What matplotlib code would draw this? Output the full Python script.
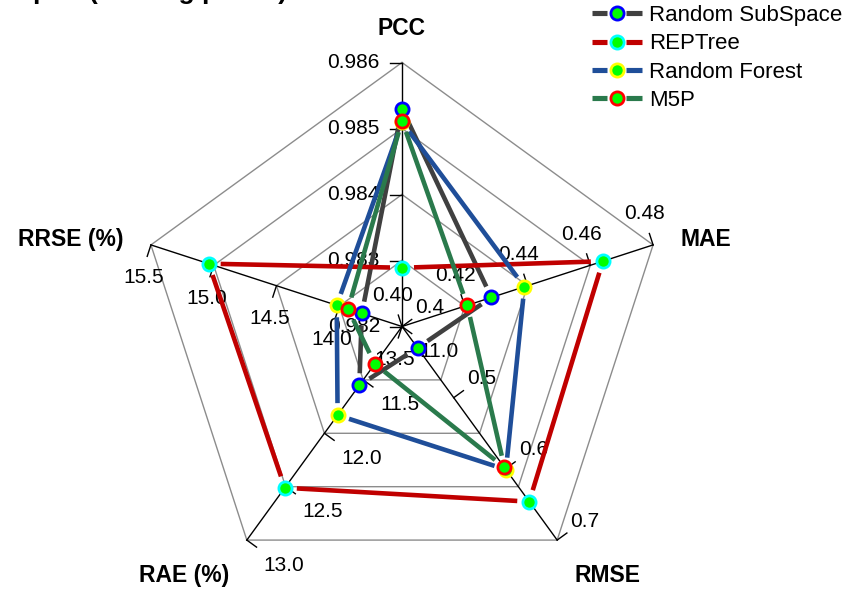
import numpy as np
import matplotlib
matplotlib.use('Agg')
import matplotlib.pyplot as plt
from matplotlib.lines import Line2D
from matplotlib.legend_handler import HandlerBase

plt.rcParams['font.family'] = ['Liberation Sans', 'DejaVu Sans']

# ---------------- data ----------------
axis_names = ['PCC', 'MAE', 'RMSE', 'RAE (%)', 'RRSE (%)']

pcc_ticks = [0.982, 0.983, 0.984, 0.985, 0.986]
mae_ticks = [0.40, 0.42, 0.44, 0.46, 0.48]
rmse_ticks = [0.4, 0.5, 0.6, 0.7]
rae_ticks = [11.0, 11.5, 12.0, 12.5, 13.0]
rrse_ticks = [13.5, 14.0, 14.5, 15.0, 15.5]

pcc_labels = ['0.982', '0.983', '0.984', '0.985', '0.986']
mae_labels = ['0.40', '0.42', '0.44', '0.46', '0.48']
rmse_labels = ['0.4', '0.5', '0.6', '0.7']
rae_labels = ['11.0', '11.5', '12.0', '12.5', '13.0']
rrse_labels = ['13.5', '14.0', '14.5', '15.0', '15.5']

series_names = ['Random SubSpace', 'REPTree', 'Random Forest', 'M5P']
# values in order PCC, MAE, RMSE, RAE (%), RRSE (%)
random_subspace = [0.98530, 0.4285, 0.430, 11.55, 13.82]
reptree = [0.98289, 0.464, 0.646, 12.51, 15.04]
random_forest = [0.98510, 0.439, 0.601, 11.83, 14.02]
m5p = [0.98512, 0.4208, 0.598, 11.35, 13.93]

line_colors = ['#404040', '#C00000', '#1F4E99', '#2A7A4C']
edge_colors = ['#0000FF', '#00FFFF', '#FFFF00', '#FF0000']
face_color = '#00FF00'

LW = 3.3
MS = 9.5
MEW = 2.0

# ---------------- layout ----------------
W, H = 853, 590
cx, cy = 402.0, 326.5     # pixel centre
R = 264.0                 # pixel radius of outer ring

fig = plt.figure(figsize=(W / 100, H / 100), dpi=100)
ax = fig.add_axes([0, 0, 1, 1])
ax.set_xlim(-cx / R, (W - cx) / R)
ax.set_ylim(-(H - cy) / R, cy / R)
ax.axis('off')

all_ticks = [pcc_ticks, mae_ticks, rmse_ticks, rae_ticks, rrse_ticks]
all_labels = [pcc_labels, mae_labels, rmse_labels, rae_labels, rrse_labels]
n = len(axis_names)
theta = np.deg2rad(90 - 72 * np.arange(n))
ux, uy = np.cos(theta), np.sin(theta)
nx, ny = -np.sin(theta), np.cos(theta)   # tick direction


def frac(i, v):
    t = all_ticks[i]
    return (v - t[0]) / (t[-1] - t[0])


def px(dx, dy):
    return dx / R, -dy / R

# grid pentagons
for f in [0.25, 0.5, 0.75, 1.0]:
    xs = list(f * ux) + [f * ux[0]]
    ys = list(f * uy) + [f * uy[0]]
    ax.plot(xs, ys, color='#8C8C8C', lw=1.0, zorder=1)

# axis lines, ticks, tick labels
label_off = {1: (-9, -31), 2: (28, -19), 3: (37, 25), 4: (-7, 33)}
L = 12 / R
for i in range(n):
    ax.plot([0, ux[i]], [0, uy[i]], color='black', lw=1.0, zorder=2)
    for v, lab in zip(all_ticks[i], all_labels[i]):
        f = frac(i, v)
        x0, y0 = f * ux[i], f * uy[i]
        ax.plot([x0, x0 + L * nx[i]], [y0, y0 + L * ny[i]], color='black', lw=1.0, zorder=2)
        if i == 0:
            ox, oy = px(-22, 0)
            ax.text(x0 + ox, y0 + oy, lab, ha='right', va='center', fontsize=15, zorder=2)
        else:
            ox, oy = px(*label_off[i])
            ax.text(x0 + ox, y0 + oy, lab, ha='center', va='center', fontsize=15, zorder=2)

# category labels (pixel offsets from outer vertex)
cat_off = [((0, -34), 'center'), ((27, -5), 'left'), ((50, 35), 'center'),
           ((-63, 35), 'center'), ((-27, -5), 'right')]
for i in range(n):
    (dx, dy), ha = cat_off[i]
    ox, oy = px(dx, dy)
    ax.text(ux[i] + ox, uy[i] + oy, axis_names[i], ha=ha, va='center',
            fontsize=16.5, fontweight='bold')

# series
all_series = [random_subspace, reptree, random_forest, m5p]
gap = 12 / R
for k, vals in enumerate(all_series):
    fr = np.array([frac(i, v) for i, v in enumerate(vals)])
    xs, ys = fr * ux, fr * uy
    for j in range(n):
        a = np.array([xs[j], ys[j]])
        b = np.array([xs[(j + 1) % n], ys[(j + 1) % n]])
        d = b - a
        ln = np.hypot(*d)
        if ln > 2 * gap:
            a2 = a + gap * d / ln
            b2 = b - gap * d / ln
            ax.plot([a2[0], b2[0]], [a2[1], b2[1]], color=line_colors[k], lw=LW,
                    solid_capstyle='butt', zorder=3 + k)
    ax.plot(xs, ys, ls='none', marker='o', ms=MS, mfc=face_color,
            mec=edge_colors[k], mew=MEW, zorder=8 + k)


# legend key: line - gap - marker - gap - line
class GapKey:
    def __init__(self, lc, ec):
        self.lc = lc
        self.ec = ec


class GapHandler(HandlerBase):
    def create_artists(self, legend, orig_handle, xdescent, ydescent, width,
                       height, fontsize, trans):
        y = height / 2 - ydescent
        x0 = -xdescent
        xm = x0 + width / 2
        g = 0.19 * width
        l1 = Line2D([x0, xm - g], [y, y], color=orig_handle.lc, lw=LW + 0.4,
                    solid_capstyle='butt', transform=trans)
        l2 = Line2D([xm + g, x0 + width], [y, y], color=orig_handle.lc, lw=LW + 0.4,
                    solid_capstyle='butt', transform=trans)
        m = Line2D([xm], [y], ls='none', marker='o', ms=MS, mfc=face_color,
                   mec=orig_handle.ec, mew=MEW, transform=trans)
        return [l1, l2, m]


keys = [GapKey(lc, ec) for lc, ec in zip(line_colors, edge_colors)]
fig.legend(keys, series_names, handler_map={GapKey: GapHandler()},
           loc='upper left', bbox_to_anchor=(592 / W, 1 - 5 / H), frameon=False,
           fontsize=16, borderpad=0, borderaxespad=0, handlelength=2.25,
           handletextpad=0.3, labelspacing=0.33)

# title (mostly cut off at the top edge)
fig.text(287 / W, 1 + 1.5 / H, 'Radar plot (training phase)', ha='right',
         va='baseline', fontsize=19, fontweight='bold')

fig.savefig('out.png', dpi=100)
